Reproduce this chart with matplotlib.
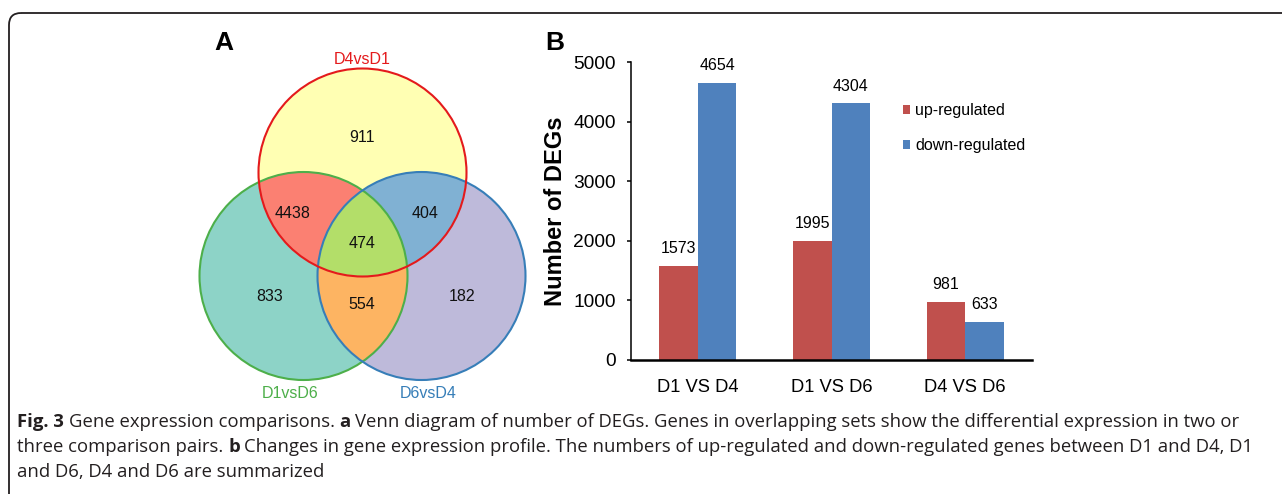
import numpy as np
import matplotlib
matplotlib.use("Agg")
import matplotlib.pyplot as plt
from matplotlib.patches import Circle, Polygon, FancyBboxPatch

# ---------------- data ----------------
venn_sets = ["D4vsD1", "D1vsD6", "D6vsD4"]
venn_only = [911, 833, 182]          # A only, B only, C only
venn_ab = 4438                        # D4vsD1 & D1vsD6
venn_ac = 404                         # D4vsD1 & D6vsD4
venn_bc = 554                         # D1vsD6 & D6vsD4
venn_abc = 474

categories = ["D1 VS D4", "D1 VS D6", "D4 VS D6"]
up_regulated = [1573, 1995, 981]
down_regulated = [4654, 4304, 633]
series_names = ["up-regulated", "down-regulated"]
y_ticks = [0, 1000, 2000, 3000, 4000, 5000]

# ---------------- figure ----------------
W, H = 1282, 494
fig = plt.figure(figsize=(W / 100, H / 100), dpi=100)
fig.patch.set_facecolor("white")
ax0 = fig.add_axes([0, 0, 1, 1])
ax0.set_xlim(0, W)
ax0.set_ylim(H, 0)
ax0.axis("off")

CHART_FONT = ["Liberation Sans", "DejaVu Sans"]
CAP_FONT = ["Open Sans", "DejaVu Sans"]

# border (rounded frame running off right/bottom)
ax0.add_patch(FancyBboxPatch((9, 13), 1400, 600,
                             boxstyle="round,pad=0,rounding_size=12",
                             fill=False, edgecolor="#231F20", lw=1.3))

# ---------------- Venn ----------------
R = 104.0
centers = [(362.5, 172.5), (303.5, 276.0), (421.5, 276.0)]
fill_only = ["#FFFFB3", "#8DD3C7", "#BEBADA"]
edge_cols = ["#E41A1C", "#4DAF4A", "#377EB8"]

def inter_poly(idx):
    pts = []
    t = np.linspace(0, 2 * np.pi, 3000, endpoint=False)
    for i in idx:
        cx, cy = centers[i]
        p = np.column_stack([cx + R * np.cos(t), cy + R * np.sin(t)])
        keep = np.ones(len(p), bool)
        for j in idx:
            if j == i:
                continue
            ox, oy = centers[j]
            keep &= (p[:, 0] - ox) ** 2 + (p[:, 1] - oy) ** 2 <= R * R + 1e-6
        pts.append(p[keep])
    pts = np.vstack(pts)
    c = pts.mean(axis=0)
    ang = np.arctan2(pts[:, 1] - c[1], pts[:, 0] - c[0])
    return pts[np.argsort(ang)]

for i in range(3):
    ax0.add_patch(Circle(centers[i], R, facecolor=fill_only[i], edgecolor="none", zorder=1))
for idx, col in [((0, 1), "#FB8072"), ((0, 2), "#80B1D3"), ((1, 2), "#FDB462")]:
    ax0.add_patch(Polygon(inter_poly(idx), closed=True, facecolor=col, edgecolor="none", zorder=2))
ax0.add_patch(Polygon(inter_poly((0, 1, 2)), closed=True, facecolor="#B3DE69", edgecolor="none", zorder=3))
for i in [1, 2, 0]:
    ax0.add_patch(Circle(centers[i], R, facecolor="none", edgecolor=edge_cols[i], lw=1.5, zorder=4))

vfs = 11.5
count_pos = {
    "a": (362, 137), "b": (270, 296), "c": (462, 296),
    "ab": (293, 213), "ac": (425, 213), "bc": (362, 304), "abc": (362, 243),
}
vals = {"a": venn_only[0], "b": venn_only[1], "c": venn_only[2],
        "ab": venn_ab, "ac": venn_ac, "bc": venn_bc, "abc": venn_abc}
for k, (px, py) in count_pos.items():
    ax0.text(px, py, str(vals[k]), ha="center", va="center", fontsize=vfs,
             family=CHART_FONT, color="#111111", zorder=5)

label_pos = [(362, 60), (290, 393), (428, 393)]
for i, (px, py) in enumerate(label_pos):
    ax0.text(px, py, venn_sets[i], ha="center", va="center", fontsize=vfs,
             family=CHART_FONT, color=edge_cols[i], zorder=5)

ax0.text(224, 43, "A", ha="center", va="center", fontsize=19, fontweight="bold", family=CHART_FONT)
ax0.text(555, 43, "B", ha="center", va="center", fontsize=19, fontweight="bold", family=CHART_FONT)

# ---------------- Bar chart ----------------
axl, axr, axt, axb = 631, 1032, 62, 360
ax = fig.add_axes([axl / W, 1 - axb / H, (axr - axl) / W, (axb - axt) / H])
ax.patch.set_alpha(0)
x = np.arange(len(categories))
w = 0.288
b1 = ax.bar(x - w / 2, up_regulated, w, color="#C0504D", label=series_names[0])
b2 = ax.bar(x + w / 2, down_regulated, w, color="#4F81BD", label=series_names[1])
for bars, vs in [(b1, up_regulated), (b2, down_regulated)]:
    for rect, v in zip(bars, vs):
        ax.annotate(str(v), (rect.get_x() + rect.get_width() / 2, v),
                    xytext=(0, 12.5), textcoords="offset points",
                    ha="center", va="center", fontsize=11.5, family=CHART_FONT)
ax.set_xlim(-0.5, len(categories) - 0.5)
ax.set_ylim(0, 5000)
ax.set_yticks(y_ticks)
ax.set_xticks(x)
ax.set_xticklabels(categories, family=CHART_FONT)
for lab in ax.get_yticklabels():
    lab.set_family(CHART_FONT)
ax.tick_params(axis="y", length=3, width=1.1, direction="out", pad=8, labelsize=13.8)
ax.tick_params(axis="x", length=0, pad=14, labelsize=13.2)
for s in ["top", "right"]:
    ax.spines[s].set_visible(False)
ax.spines["left"].set_linewidth(1.1)
ax.spines["bottom"].set_linewidth(1.8)

ax0.text(555, 211, "Number of DEGs", rotation=90, ha="center", va="center",
         fontsize=17, fontweight="bold", family=CHART_FONT)

ax.legend(loc="upper left", bbox_to_anchor=(903 / W, 1 - 103 / H), bbox_transform=fig.transFigure,
          frameon=False, prop={"family": CHART_FONT, "size": 11.5},
          handlelength=0.45, handleheight=0.45, handletextpad=0.3,
          labelspacing=1.25, borderpad=0, borderaxespad=0)

# ---------------- Caption ----------------
renderer = fig.canvas.get_renderer()
cap_color = "#231F20"
cap_size = 13.3

def width_of(s, bold):
    t = ax0.text(0, 0, s, fontsize=cap_size, family=CAP_FONT,
                 fontweight="bold" if bold else "normal")
    wdt = t.get_window_extent(renderer).width
    t.remove()
    return wdt

sp_w = width_of("n n", False) - width_of("nn", False)

def rich(x0, y0, parts):
    xx = x0
    for k, (s, bold) in enumerate(parts):
        if k > 0:
            xx += sp_w
        t = ax0.text(xx, y0, s, fontsize=cap_size, family=CAP_FONT, color=cap_color,
                     fontweight="bold" if bold else "normal", ha="left", va="baseline")
        xx += t.get_window_extent(renderer).width

rich(17, 427, [("Fig. 3", True), ("Gene expression comparisons.", False), ("a", True),
               ("Venn diagram of number of DEGs. Genes in overlapping sets show the differential expression in two or", False)])
rich(17, 452, [("three comparison pairs.", False), ("b", True),
               ("Changes in gene expression profile. The numbers of up-regulated and down-regulated genes between D1 and D4, D1", False)])
rich(17, 477, [("and D6, D4 and D6 are summarized", False)])

fig.savefig("out.png", dpi=100)
